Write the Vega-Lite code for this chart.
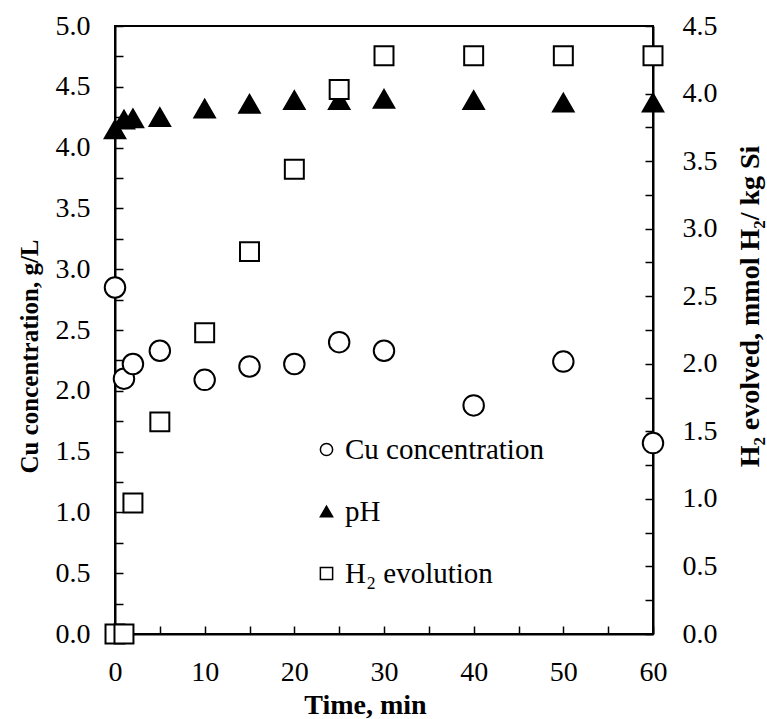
{
  "$schema": "https://vega.github.io/schema/vega-lite/v6.json",
  "width": 538,
  "height": 608,
  "autosize": "none",
  "padding": {"left": 115, "top": 26, "right": 114, "bottom": 85},
  "background": "white",
  "config": {
    "view": {"stroke": "black", "strokeWidth": 2},
    "font": "Liberation Serif",
    "axis": {
      "domainColor": "black", "domainWidth": 2,
      "tickColor": "black", "tickWidth": 1.5, "tickSize": -8,
      "grid": false,
      "labelFont": "Liberation Serif", "labelFontSize": 28, "labelColor": "black",
      "labelOverlap": false, "labelFlush": false,
      "titleFont": "Liberation Serif", "titleFontSize": 26, "titleFontWeight": "bold", "titleColor": "black"
    },
    "legend": {
      "labelFont": "Liberation Serif", "labelFontSize": 29, "labelColor": "black", "labelLimit": 400,
      "symbolStrokeColor": "black", "symbolStrokeWidth": 1.5
    }
  },
  "data": {
    "values": [
      {"t": 0, "series": "Cu concentration", "v": 2.85},
      {"t": 1, "series": "Cu concentration", "v": 2.10},
      {"t": 2, "series": "Cu concentration", "v": 2.22},
      {"t": 5, "series": "Cu concentration", "v": 2.33},
      {"t": 10, "series": "Cu concentration", "v": 2.09},
      {"t": 15, "series": "Cu concentration", "v": 2.20},
      {"t": 20, "series": "Cu concentration", "v": 2.22},
      {"t": 25, "series": "Cu concentration", "v": 2.40},
      {"t": 30, "series": "Cu concentration", "v": 2.33},
      {"t": 40, "series": "Cu concentration", "v": 1.88},
      {"t": 50, "series": "Cu concentration", "v": 2.24},
      {"t": 60, "series": "Cu concentration", "v": 1.57},
      {"t": 0, "series": "pH", "v": 4.15},
      {"t": 1, "series": "pH", "v": 4.23},
      {"t": 2, "series": "pH", "v": 4.24},
      {"t": 5, "series": "pH", "v": 4.25},
      {"t": 10, "series": "pH", "v": 4.32},
      {"t": 15, "series": "pH", "v": 4.36},
      {"t": 20, "series": "pH", "v": 4.39},
      {"t": 25, "series": "pH", "v": 4.39},
      {"t": 30, "series": "pH", "v": 4.40},
      {"t": 40, "series": "pH", "v": 4.39},
      {"t": 50, "series": "pH", "v": 4.37},
      {"t": 60, "series": "pH", "v": 4.37},
      {"t": 0, "series": "H₂ evolution", "v": 0},
      {"t": 1, "series": "H₂ evolution", "v": 0},
      {"t": 2, "series": "H₂ evolution", "v": 0.97},
      {"t": 5, "series": "H₂ evolution", "v": 1.57},
      {"t": 10, "series": "H₂ evolution", "v": 2.23},
      {"t": 15, "series": "H₂ evolution", "v": 2.83},
      {"t": 20, "series": "H₂ evolution", "v": 3.44},
      {"t": 25, "series": "H₂ evolution", "v": 4.03},
      {"t": 30, "series": "H₂ evolution", "v": 4.28},
      {"t": 40, "series": "H₂ evolution", "v": 4.28},
      {"t": 50, "series": "H₂ evolution", "v": 4.28},
      {"t": 60, "series": "H₂ evolution", "v": 4.28}
    ]
  },
  "encoding": {
    "x": {
      "field": "t", "type": "quantitative",
      "scale": {"domain": [0, 60], "nice": false},
      "axis": {
        "title": "Time, min",
        "titleFontSize": 28,
        "titleX": 250,
        "titleAlign": "center",
        "values": [0, 5, 10, 15, 20, 25, 30, 35, 40, 45, 50, 55, 60],
        "labelExpr": "datum.value % 10 === 0 ? datum.value : ''",
        "labelPadding": 32,
        "titlePadding": 5
      }
    },
    "shape": {
      "field": "series", "type": "nominal",
      "scale": {"domain": ["Cu concentration", "pH", "H₂ evolution"], "range": ["circle", "triangle-up", "square"]},
      "legend": {"title": null, "orient": "none", "legendX": 197, "legendY": 409, "symbolSize": 150, "rowPadding": 32, "labelOffset": 4, "padding": 0, "symbolStrokeColor": "black"}
    },
    "fill": {
      "field": "series", "type": "nominal",
      "scale": {"domain": ["Cu concentration", "pH", "H₂ evolution"], "range": ["white", "black", "white"]},
      "legend": {"title": null, "orient": "none", "legendX": 197, "legendY": 409, "symbolSize": 150, "rowPadding": 32, "labelOffset": 4, "padding": 0, "symbolStrokeColor": "black"}
    },
    "stroke": {
      "field": "series", "type": "nominal",
      "scale": {"domain": ["Cu concentration", "pH", "H₂ evolution"], "range": ["black", "black", "black"]},
      "legend": {"title": null, "orient": "none", "legendX": 197, "legendY": 409, "symbolSize": 150, "rowPadding": 32, "labelOffset": 4, "padding": 0, "symbolStrokeColor": "black"}
    }
  },
  "layer": [
    {
      "transform": [{"filter": "datum.series !== 'H₂ evolution'"}],
      "mark": {"type": "point", "filled": true, "strokeWidth": 2, "opacity": 1, "size": 420},
      "encoding": {
        "y": {
          "field": "v", "type": "quantitative",
          "scale": {"domain": [0, 5], "nice": false},
          "axis": {
            "orient": "left",
            "title": "Cu concentration, g/L",
            "titleFontSize": 25,
            "titleAngle": 270,
            "titleX": -86,
            "titleY": 330,
            "titleAlign": "center",
            "titleBaseline": "middle",
            "values": [0, 0.25, 0.5, 0.75, 1, 1.25, 1.5, 1.75, 2, 2.25, 2.5, 2.75, 3, 3.25, 3.5, 3.75, 4, 4.25, 4.5, 4.75, 5],
            "labelExpr": "(datum.value * 100) % 50 === 0 ? format(datum.value, '.1f') : ''",
            "labelPadding": 33
          }
        }
      }
    },
    {
      "transform": [{"filter": "datum.series === 'H₂ evolution'"}],
      "mark": {"type": "point", "filled": true, "strokeWidth": 2, "opacity": 1, "size": 360},
      "encoding": {
        "y": {
          "field": "v", "type": "quantitative",
          "scale": {"domain": [0, 4.5], "nice": false},
          "axis": {
            "orient": "right",
            "title": "H₂ evolved, mmol H₂/ kg Si",
            "titleFontSize": 28,
            "titleAngle": 270,
            "titleX": 97,
            "titleY": 280,
            "titleAlign": "center",
            "titleBaseline": "middle",
            "values": [0, 0.25, 0.5, 0.75, 1, 1.25, 1.5, 1.75, 2, 2.25, 2.5, 2.75, 3, 3.25, 3.5, 3.75, 4, 4.25, 4.5],
            "labelExpr": "(datum.value * 100) % 50 === 0 ? format(datum.value, '.1f') : ''",
            "labelPadding": 37
          }
        }
      }
    }
  ],
  "resolve": {"scale": {"y": "independent"}, "axis": {"y": "independent"}}
}
